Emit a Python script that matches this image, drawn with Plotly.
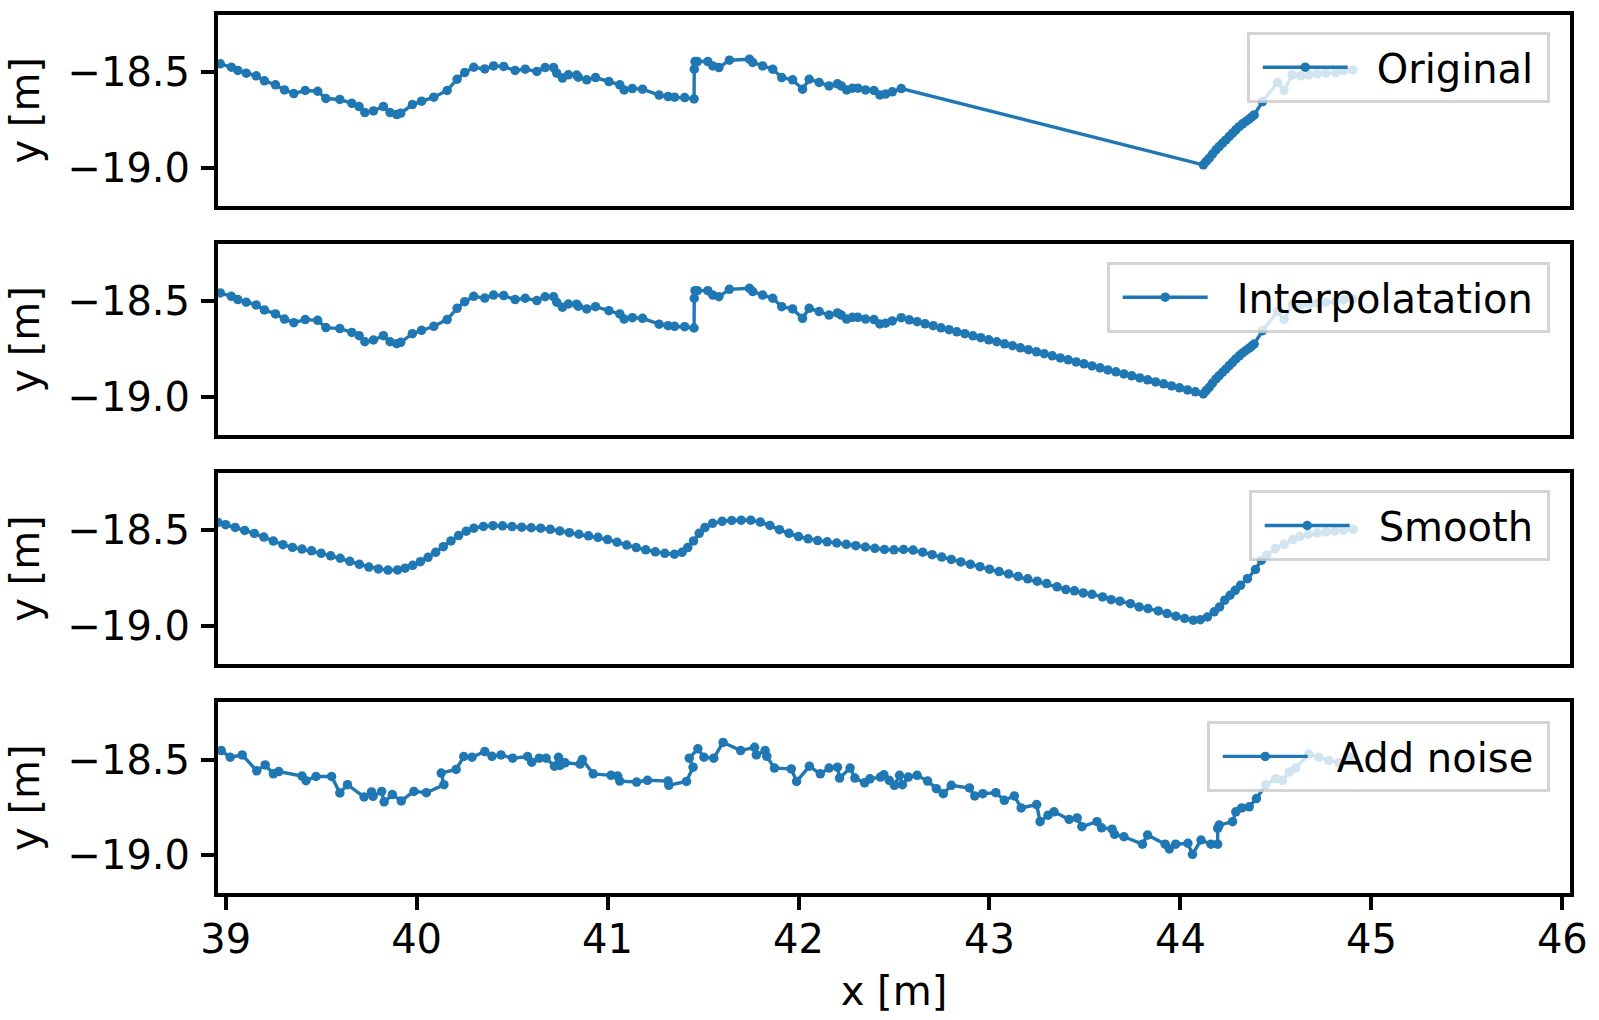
import plotly.graph_objects as go
from plotly.subplots import make_subplots

# ---------------- data ----------------
orig_x = [38.972, 39.030, 39.064, 39.108, 39.160, 39.203, 39.261, 39.308, 39.357, 39.417,
          39.482, 39.525, 39.598, 39.661, 39.699, 39.729, 39.774, 39.826, 39.861, 39.896,
          39.917, 39.978, 40.026, 40.090, 40.160, 40.212, 40.252, 40.299, 40.357, 40.403,
          40.456, 40.516, 40.569, 40.630, 40.673, 40.717, 40.734, 40.764, 40.795, 40.838,
          40.847, 40.891, 40.937, 41.007, 41.064, 41.087, 41.130, 41.183, 41.270, 41.317,
          41.351, 41.404, 41.453, 41.454, 41.458, 41.470, 41.525, 41.551, 41.583, 41.638,
          41.743, 41.760, 41.812, 41.865, 41.912, 41.969, 42.021, 42.056, 42.108, 42.160,
          42.204, 42.224, 42.252, 42.282, 42.311, 42.351, 42.395, 42.426, 42.456, 42.491,
          42.538,
          44.120, 44.135, 44.151, 44.168, 44.186, 44.203, 44.221, 44.238, 44.256, 44.273,
          44.290, 44.308, 44.325, 44.343, 44.360, 44.373, 44.386, 44.430, 44.508, 44.543,
          44.586, 44.630, 44.674, 44.717, 44.761, 44.813, 44.856, 44.903]
orig_y = [-18.456, -18.474, -18.491, -18.505, -18.519, -18.545, -18.566, -18.593, -18.612, -18.596,
          -18.600, -18.638, -18.643, -18.663, -18.680, -18.712, -18.703, -18.680, -18.712, -18.722,
          -18.715, -18.670, -18.652, -18.631, -18.596, -18.537, -18.502, -18.474, -18.483, -18.467,
          -18.470, -18.491, -18.484, -18.496, -18.476, -18.476, -18.505, -18.531, -18.514, -18.515,
          -18.526, -18.540, -18.528, -18.549, -18.566, -18.593, -18.586, -18.589, -18.620, -18.628,
          -18.631, -18.633, -18.640, -18.484, -18.444, -18.444, -18.444, -18.467, -18.476, -18.437,
          -18.432, -18.449, -18.467, -18.484, -18.528, -18.540, -18.589, -18.537, -18.554, -18.572,
          -18.561, -18.572, -18.593, -18.584, -18.584, -18.593, -18.596, -18.619, -18.615, -18.603,
          -18.586,
          -18.986, -18.968, -18.951, -18.929, -18.907, -18.890, -18.872, -18.855, -18.837, -18.820,
          -18.802, -18.786, -18.771, -18.758, -18.746, -18.735, -18.724, -18.654, -18.554, -18.596,
          -18.514, -18.519, -18.514, -18.509, -18.505, -18.502, -18.491, -18.488]
gap_start = 81  # index in orig where the gap begins

gap_x = [42.580, 42.621, 42.663, 42.705, 42.746, 42.788, 42.829, 42.871, 42.913, 42.954,
         42.996, 43.038, 43.079, 43.121, 43.162, 43.204, 43.246, 43.287, 43.329, 43.371,
         43.412, 43.454, 43.495, 43.537, 43.579, 43.620, 43.662, 43.704, 43.745, 43.787,
         43.828, 43.870, 43.912, 43.953, 43.995, 44.037, 44.078]
gap_y = [-18.597, -18.607, -18.618, -18.628, -18.639, -18.649, -18.660, -18.670, -18.681, -18.691,
         -18.702, -18.712, -18.723, -18.733, -18.744, -18.754, -18.765, -18.775, -18.786, -18.797,
         -18.807, -18.818, -18.828, -18.839, -18.849, -18.860, -18.870, -18.881, -18.891, -18.902,
         -18.912, -18.923, -18.933, -18.944, -18.954, -18.965, -18.975]

smooth_x = [38.96, 39.00, 39.05, 39.10, 39.15, 39.20, 39.25, 39.30, 39.35, 39.40,
            39.45, 39.50, 39.55, 39.60, 39.65, 39.70, 39.75, 39.80, 39.85, 39.90,
            39.94, 39.98, 40.02, 40.06, 40.10, 40.14, 40.18, 40.22, 40.26, 40.30,
            40.35, 40.40, 40.45, 40.50, 40.55, 40.60, 40.65, 40.70, 40.75, 40.80,
            40.85, 40.90, 40.95, 41.00, 41.05, 41.10, 41.15, 41.20, 41.25, 41.30,
            41.35, 41.39, 41.42, 41.45, 41.48, 41.51, 41.55, 41.60, 41.65, 41.70,
            41.75, 41.80, 41.85, 41.90, 41.95, 42.00, 42.05, 42.10, 42.15, 42.20,
            42.25, 42.30, 42.35, 42.40, 42.45, 42.50, 42.55, 42.60, 42.65, 42.70,
            42.75, 42.80, 42.85, 42.90, 42.95, 43.00, 43.05, 43.10, 43.15, 43.20,
            43.25, 43.299, 43.354, 43.400, 43.445, 43.491, 43.537, 43.592, 43.637, 43.683,
            43.738, 43.784, 43.830, 43.884, 43.930, 43.976, 44.022, 44.067, 44.104, 44.141,
            44.177, 44.205, 44.232, 44.260, 44.287, 44.315, 44.351, 44.393, 44.424, 44.452,
            44.497, 44.543, 44.589, 44.626, 44.671, 44.717, 44.763, 44.808, 44.854, 44.905]
smooth_y = [-18.458, -18.470, -18.484, -18.500, -18.516, -18.535, -18.556, -18.575, -18.589, -18.598,
            -18.607, -18.620, -18.633, -18.646, -18.662, -18.678, -18.692, -18.702, -18.708, -18.707,
            -18.698, -18.683, -18.664, -18.641, -18.615, -18.585, -18.555, -18.527, -18.504, -18.488,
            -18.479, -18.475, -18.476, -18.480, -18.483, -18.486, -18.488, -18.494, -18.503, -18.512,
            -18.520, -18.528, -18.536, -18.548, -18.562, -18.577, -18.590, -18.602, -18.612, -18.620,
            -18.625, -18.615, -18.590, -18.555, -18.515, -18.485, -18.463, -18.452, -18.448, -18.446,
            -18.446, -18.456, -18.474, -18.496, -18.515, -18.532, -18.544, -18.553, -18.560, -18.566,
            -18.573, -18.580, -18.587, -18.594, -18.600, -18.602, -18.600, -18.603, -18.614, -18.627,
            -18.640, -18.652, -18.665, -18.678, -18.690, -18.703, -18.716, -18.728, -18.741, -18.754,
            -18.766, -18.779, -18.796, -18.810, -18.817, -18.828, -18.835, -18.849, -18.863, -18.871,
            -18.884, -18.901, -18.910, -18.922, -18.936, -18.950, -18.962, -18.971, -18.968, -18.954,
            -18.927, -18.901, -18.866, -18.840, -18.814, -18.788, -18.753, -18.705, -18.656, -18.630,
            -18.595, -18.573, -18.548, -18.531, -18.520, -18.513, -18.508, -18.503, -18.499, -18.494]

noise_x = [38.977, 39.024, 39.087, 39.163, 39.207, 39.250, 39.278, 39.400, 39.421, 39.473,
           39.555, 39.598, 39.638, 39.725, 39.764, 39.772, 39.817, 39.830, 39.873, 39.920,
           39.986, 40.051, 40.143, 40.129, 40.207, 40.247, 40.290, 40.357, 40.395, 40.442,
           40.503, 40.581, 40.603, 40.642, 40.678, 40.722, 40.743, 40.751, 40.777, 40.856,
           40.868, 40.925, 41.018, 41.053, 41.064, 41.152, 41.209, 41.317, 41.321, 41.413,
           41.448, 41.428, 41.473, 41.505, 41.556, 41.605, 41.697, 41.770, 41.779, 41.825,
           41.834, 41.874, 41.962, 41.990, 42.057, 42.114, 42.160, 42.204, 42.215, 42.270,
           42.295, 42.346, 42.374, 42.429, 42.447, 42.475, 42.502, 42.529, 42.544, 42.575,
           42.621, 42.676, 42.722, 42.758, 42.800, 42.895, 42.923, 42.965, 43.033, 43.078,
           43.130, 43.166, 43.247, 43.265, 43.307, 43.338, 43.417, 43.459, 43.484, 43.563,
           43.587, 43.642, 43.655, 43.704, 43.801, 43.828, 43.920, 43.942, 43.975, 44.039,
           44.063, 44.108, 44.160, 44.195, 44.195, 44.203, 44.273, 44.290, 44.321, 44.360,
           44.398, 44.447, 44.499, 44.534, 44.569, 44.603, 44.673, 44.725, 44.777, 44.829,
           44.890]
noise_y = [-18.453, -18.488, -18.476, -18.559, -18.528, -18.575, -18.563, -18.587, -18.611, -18.589,
           -18.589, -18.675, -18.632, -18.696, -18.670, -18.693, -18.667, -18.722, -18.684, -18.717,
           -18.667, -18.674, -18.632, -18.571, -18.552, -18.484, -18.488, -18.458, -18.483, -18.476,
           -18.493, -18.484, -18.514, -18.493, -18.493, -18.535, -18.488, -18.531, -18.517, -18.524,
           -18.500, -18.575, -18.583, -18.587, -18.613, -18.618, -18.609, -18.613, -18.635, -18.615,
           -18.540, -18.493, -18.444, -18.488, -18.493, -18.410, -18.453, -18.436, -18.476, -18.453,
           -18.483, -18.545, -18.549, -18.615, -18.535, -18.575, -18.545, -18.540, -18.597, -18.545,
           -18.597, -18.622, -18.601, -18.592, -18.580, -18.609, -18.635, -18.583, -18.632, -18.592,
           -18.583, -18.613, -18.653, -18.679, -18.635, -18.649, -18.691, -18.679, -18.674, -18.714,
           -18.691, -18.754, -18.736, -18.826, -18.792, -18.774, -18.814, -18.806, -18.852, -18.826,
           -18.858, -18.865, -18.892, -18.905, -18.944, -18.896, -18.944, -18.969, -18.944, -18.939,
           -18.997, -18.922, -18.944, -18.944, -18.861, -18.844, -18.826, -18.774, -18.754, -18.748,
           -18.705, -18.632, -18.601, -18.609, -18.566, -18.545, -18.471, -18.488, -18.505, -18.517,
           -18.488]

series_names = ["Original", "Interpolatation", "Smooth", "Add noise"]
y_tickvals = [-18.5, -19.0]
y_ticktext = ["\u221218.5", "\u221219.0"]
x_tickvals = [39, 40, 41, 42, 43, 44, 45, 46]
x_ticktext = ["39", "40", "41", "42", "43", "44", "45", "46"]

interp_x = orig_x[:gap_start] + gap_x + orig_x[gap_start:]
interp_y = orig_y[:gap_start] + gap_y + orig_y[gap_start:]

# ---------------- figure ----------------
COLOR = "#1f77b4"
FONT = "DejaVu Sans"
FS = 40

fig = make_subplots(rows=4, cols=1, shared_xaxes=True, vertical_spacing=0.0438)

all_series = [(orig_x, orig_y), (interp_x, interp_y), (smooth_x, smooth_y), (noise_x, noise_y)]
legend_ids = ["legend", "legend2", "legend3", "legend4"]
legend_tops = [0.981, 0.719, 0.459, 0.196]

for i, ((xs, ys), name) in enumerate(zip(all_series, series_names)):
    fig.add_trace(go.Scatter(x=xs, y=ys, mode="lines+markers",
                             name="\u2002\u200a" + name + "\u2009",
                             line=dict(color=COLOR, width=3.4),
                             marker=dict(color=COLOR, size=9.5),
                             legend=legend_ids[i], showlegend=True),
                  row=i + 1, col=1)

legend_style = dict(
    x=0.985, xanchor="right", yanchor="top",
    bgcolor="rgba(255,255,255,0.8)",
    bordercolor="rgba(204,204,204,0.85)", borderwidth=3,
    font=dict(family=FONT, size=FS, color="black"),
    itemwidth=85, indentation=8,
)
layout_legends = {}
for lid, top in zip(legend_ids, legend_tops):
    layout_legends[lid] = dict(legend_style, y=top)

fig.update_layout(
    width=1599, height=1020,
    margin=dict(l=218, r=23, t=11, b=127),
    plot_bgcolor="white", paper_bgcolor="white",
    font=dict(family=FONT, size=FS, color="black"),
    showlegend=True,
    **layout_legends,
)

for r in range(1, 5):
    fig.update_yaxes(range=[-19.2, -18.2], tickvals=y_tickvals, ticktext=y_ticktext,
                     showline=True, mirror=True, linecolor="black", linewidth=4,
                     ticks="outside", ticklen=13, tickwidth=4, tickcolor="black",
                     showgrid=False, zeroline=False, ticklabelstandoff=3,
                     title=dict(text="y [m]", font=dict(family=FONT, size=FS), standoff=16),
                     tickfont=dict(family=FONT, size=FS), row=r, col=1)
    fig.update_xaxes(range=[38.96, 46.04], tickvals=x_tickvals, ticktext=x_ticktext,
                     showline=True, mirror=True, linecolor="black", linewidth=4,
                     showgrid=False, zeroline=False, row=r, col=1)
    if r < 4:
        fig.update_xaxes(ticks="", showticklabels=False, row=r, col=1)
    else:
        fig.update_xaxes(ticks="outside", ticklen=13, tickwidth=4, tickcolor="black",
                         ticklabelstandoff=-5,
                         tickfont=dict(family=FONT, size=FS),
                         title=dict(text="x [m]", font=dict(family=FONT, size=FS), standoff=17),
                         row=r, col=1)

fig.write_html("out.html",
               config={"displayModeBar": False},
               post_script="document.body.style.margin='0';document.body.style.overflow='hidden';")
